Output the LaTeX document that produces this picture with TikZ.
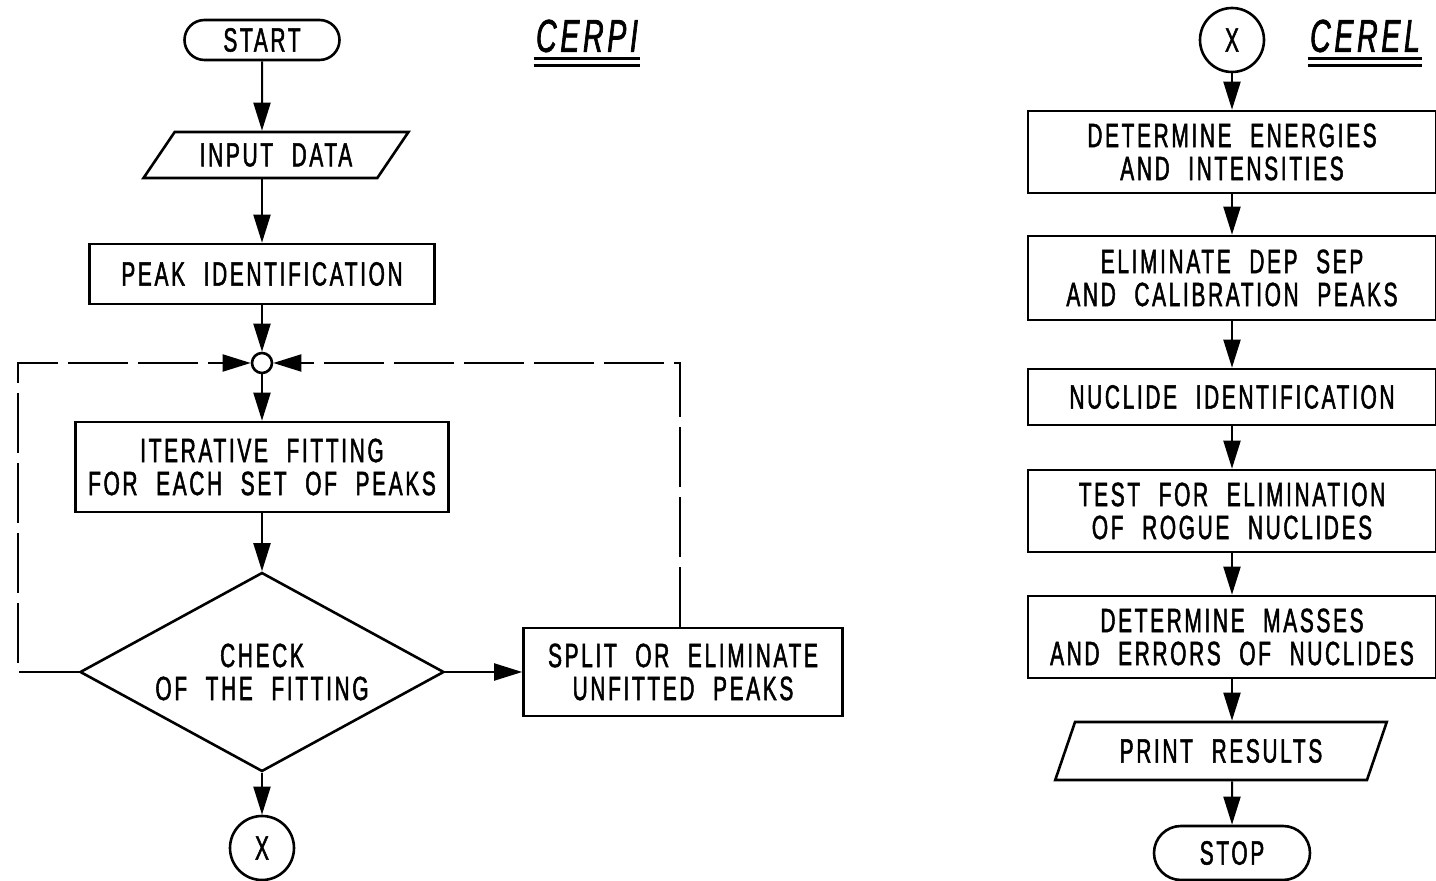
\documentclass[tikz,border=0pt]{standalone}
\usepackage{fontspec}
\setmainfont{Liberation Sans}[FakeStretch=0.62,LetterSpace=8,WordSpace=2.2,FakeBold=1.5]
\usetikzlibrary{shapes.geometric,shapes.misc,arrows.meta}

\tikzset{
  box/.style={draw, line width=1.3pt, rectangle, align=center, inner sep=0pt,
    font=\fontsize{16.8}{16.5}\selectfont},
  term/.style={draw, line width=1.3pt, rounded rectangle, inner sep=0pt,
    font=\fontsize{16.8}{16.5}\selectfont},
  io/.style={draw, line width=1.3pt, trapezium, trapezium stretches=true,
    inner sep=0pt, font=\fontsize{16.8}{16.5}\selectfont},
  decide/.style={draw, line width=1.3pt, diamond, aspect=1.83, align=center,
    inner sep=0pt, font=\fontsize{16.8}{16.5}\selectfont},
  conn/.style={draw, line width=1.3pt, circle, inner sep=0pt,
    font=\fontsize{16.8}{16.5}\selectfont},
  title/.style={font=\fontsize{23}{23}\selectfont\itshape, inner sep=1pt},
  arr/.style={line width=1pt, -{Triangle[length=14pt,width=8.5pt]}},
  loop/.style={line width=0.6pt, dash pattern=on 30pt off 5pt}
}

\begin{document}
\begin{tikzpicture}[x=0.5pt,y=-0.5pt]
  \useasboundingbox (0,0) rectangle (1436,881);

  % CERPI
  \node[term, minimum width=77.5pt, minimum height=20pt] (start) at (262,40) {START};
  \node[title] (cerpi) at (587,36) {CERPI};
  \draw[line width=1.2pt] ([yshift=-2pt]cerpi.south west) -- ([yshift=-2pt]cerpi.south east);
  \draw[line width=1.2pt] ([yshift=-5.5pt]cerpi.south west) -- ([yshift=-5.5pt]cerpi.south east);

  \node[io, trapezium left angle=45, trapezium right angle=135,
        minimum width=133pt, minimum height=23pt] (input) at (276,155) {INPUT DATA};
  \node[box, minimum width=172.5pt, minimum height=30pt] (peak) at (262,274) {PEAK IDENTIFICATION};
  \node[conn, minimum size=10pt] (junc) at (262,363) {};
  \node[box, minimum width=186.5pt, minimum height=45pt] (iter) at (262,467)
    {ITERATIVE FITTING\\FOR EACH SET OF PEAKS};
  \node[decide, minimum width=182pt, minimum height=99.5pt] (check) at (262,672)
    {CHECK\\OF THE FITTING};
  \node[box, minimum width=159.5pt, minimum height=44pt] (split) at (683,672)
    {SPLIT OR ELIMINATE\\UNFITTED PEAKS};
  \node[conn, minimum size=32pt] (xa) at (262,848) {X};
  \coordinate (lc1) at (18,672);
  \coordinate (lc2) at (18,363);
  \coordinate (rc1) at (680,363);

  \draw[arr] (start) -- (start |- input.north);
  \draw[arr] (input.south -| peak) -- (peak);
  \draw[arr] (peak) -- (junc);
  \draw[arr] (junc) -- (iter);
  \draw[arr] (iter) -- (check);
  \draw[arr] (check) -- (xa);
  \draw[arr] (check) -- (split);
  \draw[loop] (check.west) -- (lc1) -- (lc2) -- ([xshift=-18pt]junc.west);
  \draw[arr] ([xshift=-18pt]junc.west) -- (junc.west);
  \draw[loop] (split.north -| rc1) -- (rc1) -- ([xshift=18pt]junc.east);
  \draw[arr] ([xshift=18pt]junc.east) -- (junc.east);

  % CEREL
  \node[conn, minimum size=32pt] (xb) at (1232,40) {X};
  \node[title] (cerel) at (1365,36) {CEREL};
  \draw[line width=1.2pt] ([yshift=-2pt]cerel.south west) -- ([yshift=-2pt]cerel.south east);
  \draw[line width=1.2pt] ([yshift=-5.5pt]cerel.south west) -- ([yshift=-5.5pt]cerel.south east);

  \node[box, minimum width=204pt, minimum height=41pt] (ener) at (1232,152)
    {DETERMINE ENERGIES\\AND INTENSITIES};
  \node[box, minimum width=204pt, minimum height=42pt] (elim) at (1232,278)
    {ELIMINATE DEP SEP\\AND CALIBRATION PEAKS};
  \node[box, minimum width=204pt, minimum height=28pt] (nucl) at (1232,397)
    {NUCLIDE IDENTIFICATION};
  \node[box, minimum width=204pt, minimum height=41pt] (rogue) at (1232,511)
    {TEST FOR ELIMINATION\\OF ROGUE NUCLIDES};
  \node[box, minimum width=204pt, minimum height=41pt] (mass) at (1232,637)
    {DETERMINE MASSES\\AND ERRORS OF NUCLIDES};
  \node[io, trapezium left angle=60, trapezium right angle=120,
        minimum width=166pt, minimum height=29pt] (print) at (1221,751) {PRINT RESULTS};
  \node[term, minimum width=78pt, minimum height=27pt] (stop) at (1232,853) {STOP};

  \foreach \a/\b in {xb/ener, ener/elim, elim/nucl, nucl/rogue, rogue/mass}
    \draw[arr] (\a) -- (\b);
  \draw[arr] (mass) -- (mass |- print.north);
  \draw[arr] (print.south -| stop) -- (stop);
\end{tikzpicture}
\end{document}
